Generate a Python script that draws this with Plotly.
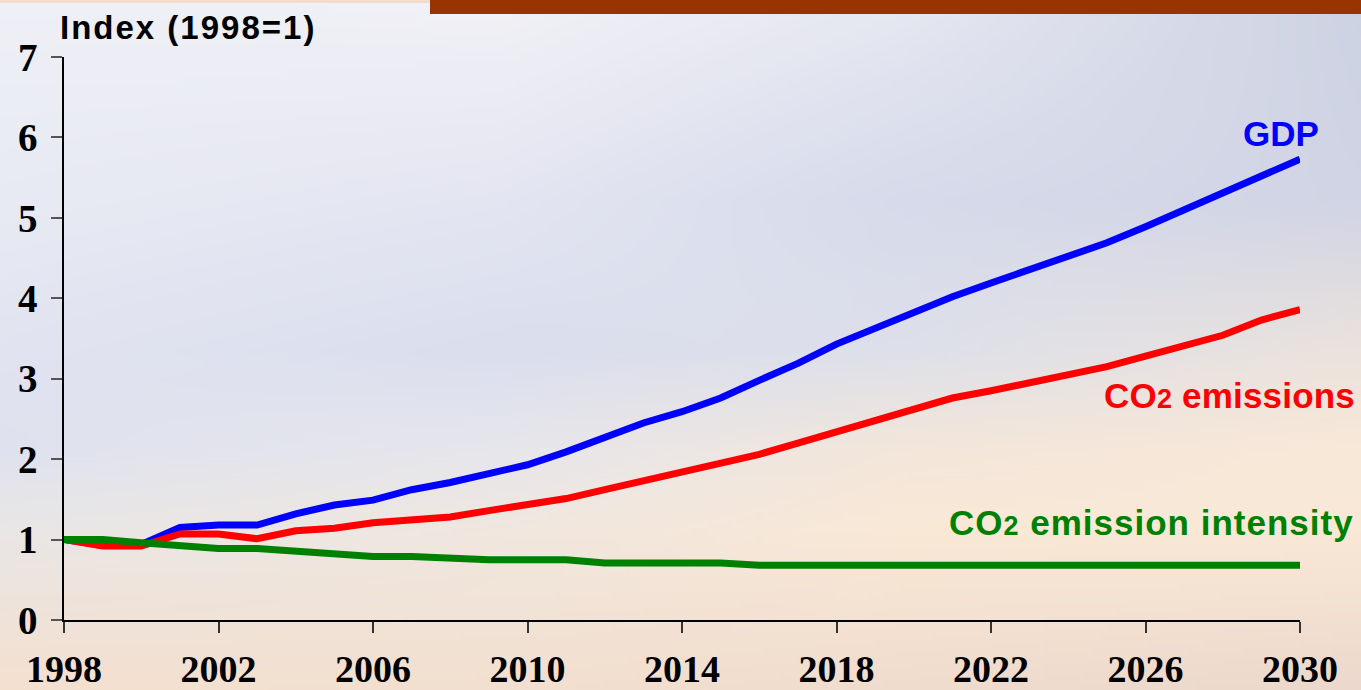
import base64
import struct
import zlib

import plotly.graph_objects as go

# ---- data -------------------------------------------------------------
years = list(range(1998, 2031))

gdp = [1.00, 0.93, 0.94, 1.15, 1.18, 1.18, 1.32, 1.43, 1.49, 1.62, 1.71,
       1.82, 1.93, 2.09, 2.26, 2.45, 2.59, 2.76, 2.98, 3.19, 3.43, 3.63,
       3.83, 4.02, 4.19, 4.35, 4.52, 4.69, 4.89, 5.10, 5.31, 5.53, 5.73]

co2_emissions = [1.00, 0.92, 0.92, 1.07, 1.07, 1.01, 1.11, 1.14, 1.21, 1.25,
                 1.28, 1.36, 1.44, 1.51, 1.62, 1.73, 1.84, 1.95, 2.06, 2.20,
                 2.34, 2.47, 2.62, 2.76, 2.85, 2.95, 3.05, 3.15, 3.28, 3.40,
                 3.54, 3.73, 3.86]

co2_intensity = [1.00, 1.00, 0.96, 0.93, 0.89, 0.89, 0.85, 0.82, 0.79, 0.79,
                 0.76, 0.75, 0.75, 0.75, 0.71, 0.71, 0.71, 0.71, 0.68, 0.68,
                 0.68, 0.68, 0.68, 0.68, 0.68, 0.68, 0.68, 0.68, 0.68, 0.68,
                 0.68, 0.68, 0.68]

x_ticks = [1998, 2002, 2006, 2010, 2014, 2018, 2022, 2026, 2030]
y_ticks = [0, 1, 2, 3, 4, 5, 6, 7]

# ---- page geometry ----------------------------------------------------
W, H = 1361, 690
ML, MR, MT, MB = 64, 61, 57, 70
PW, PH = W - ML - MR, H - MT - MB


# ---- soft slide background (bilinear colour field rendered to PNG) ----
def hexrgb(h):
    h = h.lstrip("#")
    return [int(h[i:i + 2], 16) for i in (0, 2, 4)]


bg_cols = [0, 500, 900, 1361]
bg_rows = [0, 200, 350, 450, 530, 690]
bg_grid = [
    ["#eef0f6", "#f1f1f6", "#e6e8f1", "#cdd2e2"],
    ["#e8eaf3", "#e3e5f1", "#d6daea", "#d0d4e4"],
    ["#e1e4f0", "#dadeed", "#dde0ea", "#ebe2dc"],
    ["#dfe2ee", "#e6e6ec", "#f3e6da", "#f8e8d8"],
    ["#e9e6e6", "#f0e7df", "#f9e8d6", "#f9e8d6"],
    ["#f4e0cf", "#f2dfcf", "#f0dccd", "#ecd8cc"],
]
bg_grid = [[hexrgb(c) for c in row] for row in bg_grid]


def seg(points, v):
    for i in range(len(points) - 1):
        if points[i] <= v <= points[i + 1]:
            return i, (v - points[i]) / (points[i + 1] - points[i])
    return len(points) - 2, 1.0


def make_png(w, h):
    raw = bytearray()
    for j in range(h):
        py = j * (H - 1) / (h - 1)
        r, ty = seg(bg_rows, py)
        raw.append(0)
        for i in range(w):
            px = i * (W - 1) / (w - 1)
            c, tx = seg(bg_cols, px)
            for k in range(3):
                a = bg_grid[r][c][k] * (1 - tx) + bg_grid[r][c + 1][k] * tx
                b = bg_grid[r + 1][c][k] * (1 - tx) + bg_grid[r + 1][c + 1][k] * tx
                raw.append(int(round(a * (1 - ty) + b * ty)))

    def chunk(tag, data):
        body = tag + data
        return struct.pack(">I", len(data)) + body + struct.pack(">I", zlib.crc32(body) & 0xffffffff)

    png = b"\x89PNG\r\n\x1a\n"
    png += chunk(b"IHDR", struct.pack(">IIBBBBB", w, h, 8, 2, 0, 0, 0))
    png += chunk(b"IDAT", zlib.compress(bytes(raw), 9))
    png += chunk(b"IEND", b"")
    return "data:image/png;base64," + base64.b64encode(png).decode()


bg_src = make_png(340, 172)

# ---- figure -----------------------------------------------------------
fig = go.Figure()

series = [
    ("GDP", gdp, "#0000ff"),
    ("CO2 emissions", co2_emissions, "#ff0000"),
    ("CO2 emission intensity", co2_intensity, "#008000"),
]
for name, vals, col in series:
    fig.add_trace(go.Scatter(
        x=years, y=vals, name=name, mode="lines",
        line=dict(color=col, width=7),
        cliponaxis=False, hoverinfo="x+y",
    ))


def px_x(p):
    return (p - ML) / PW


def px_y(p):
    return 1 - (p - MT) / PH


def spaced(txt, px):
    return f"<span style='letter-spacing:{px}px'>{txt}</span>"


label_font = dict(family="Liberation Sans", size=35, weight="bold")
sub2 = "<span style='font-size:27px'>2</span>"

fig.add_annotation(x=years[-1], y=gdp[-1], text="GDP", showarrow=False,
                   xanchor="right", yanchor="middle", xshift=21, yshift=26,
                   font=dict(label_font, color="#0000ff"))
fig.add_annotation(x=years[-1], y=co2_emissions[-1],
                   text=spaced(f"CO{sub2} emissions", 0.2), showarrow=False,
                   xanchor="left", yanchor="middle", xshift=-198, yshift=-86,
                   font=dict(label_font, color="#ff0000"))
fig.add_annotation(x=years[-1], y=co2_intensity[-1],
                   text=spaced(f"CO{sub2} emission intensity", 1), showarrow=False,
                   xanchor="right", yanchor="middle", xshift=56, yshift=43,
                   font=dict(label_font, color="#008000"))
fig.add_annotation(xref="paper", yref="paper", x=px_x(58), y=px_y(28),
                   text=spaced("Index (1998=1)", 2), showarrow=False,
                   xanchor="left", yanchor="middle",
                   font=dict(family="Liberation Sans", size=33, weight="bold",
                             color="#000000"))

# header bar and thin strip along the top edge
fig.add_shape(type="rect", xref="paper", yref="paper",
              x0=px_x(0), x1=px_x(430), y0=px_y(3), y1=px_y(0),
              line_width=0, fillcolor="#f3dccb", layer="below")
fig.add_shape(type="rect", xref="paper", yref="paper",
              x0=px_x(430), x1=px_x(W), y0=px_y(14), y1=px_y(0),
              line_width=0, fillcolor="#993300", layer="above")

fig.add_layout_image(dict(
    source=bg_src, xref="paper", yref="paper",
    x=px_x(0), y=px_y(0), sizex=W / PW, sizey=H / PH,
    xanchor="left", yanchor="top", sizing="stretch", layer="below",
))

y_tick_font = dict(family="Liberation Serif", size=39, weight="bold", color="#000000")
x_tick_font = dict(family="Liberation Serif", size=38, weight="bold", color="#000000")

fig.update_layout(
    width=W, height=H,
    margin=dict(l=ML, r=MR, t=MT, b=MB, pad=0, autoexpand=False),
    paper_bgcolor="#f0e0d2",
    plot_bgcolor="rgba(0,0,0,0)",
    showlegend=False,
    xaxis=dict(
        range=[years[0], years[-1]], tickmode="array", tickvals=x_ticks,
        ticktext=[str(t) for t in x_ticks], automargin=False,
        showgrid=False, zeroline=False, showline=True,
        linecolor="#000000", linewidth=1.5,
        ticks="outside", ticklen=11, tickwidth=1.5, tickcolor="#333333",
        tickfont=x_tick_font, ticklabelstandoff=4,
    ),
    yaxis=dict(
        range=[0, 7], tickmode="array", tickvals=y_ticks, automargin=False,
        showgrid=False, zeroline=False, showline=True,
        linecolor="#000000", linewidth=1.5,
        ticks="outside", ticklen=11, tickwidth=1.5, tickcolor="#555555",
        tickfont=y_tick_font, ticklabelstandoff=6,
    ),
)

fig.write_html("out.html")
